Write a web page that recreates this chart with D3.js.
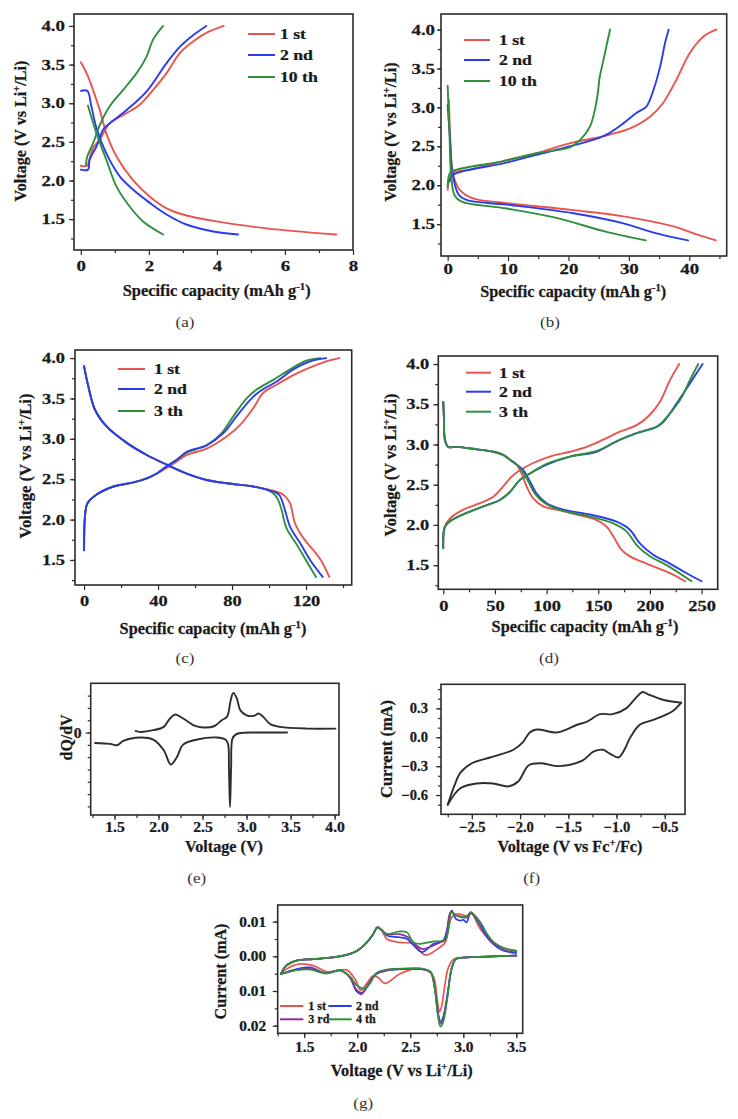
<!DOCTYPE html>
<html><head><meta charset="utf-8">
<script src="https://cdn.jsdelivr.net/npm/d3@7"></script>
<style>
html,body{margin:0;padding:0;background:#fff;}
svg{display:block;}
svg text{stroke:#1a1a1a;stroke-width:0.25px;}
</style></head><body>
<svg id="chart" width="738" height="1119"></svg>
<script>
// ---------------- DATA ----------------
// (a) specific capacity (mAh/g), voltage (V)
const a1stCharge = [[0,2.19],[0.19,2.19],[0.25,2.27],[0.36,2.42],[0.56,2.53],[0.85,2.74],[1.34,2.87],[1.73,2.98],[2.12,3.17],[2.52,3.39],[2.91,3.65],[3.3,3.8],[3.69,3.91],[4.2,4.0]];
const a1stDischarge = [[0,3.53],[0.19,3.37],[0.36,3.17],[0.56,2.91],[0.75,2.61],[1.05,2.31],[1.54,2.0],[2.03,1.79],[2.52,1.64],[3.0,1.56],[3.99,1.47],[5.46,1.38],[7.51,1.3]];
const a2ndCharge = [[0,2.14],[0.21,2.14],[0.26,2.27],[0.46,2.44],[0.66,2.66],[0.85,2.74],[1.34,2.91],[1.93,3.15],[2.52,3.52],[2.91,3.73],[3.3,3.88],[3.69,4.0]];
const a2ndDischarge = [[0,3.16],[0.19,3.16],[0.31,2.96],[0.46,2.68],[0.75,2.35],[1.15,2.05],[1.54,1.88],[2.03,1.71],[2.52,1.56],[3.1,1.43],[3.89,1.34],[4.62,1.3]];
const a10thCharge = [[0.15,2.2],[0.19,2.31],[0.36,2.48],[0.56,2.72],[0.85,2.96],[1.24,3.17],[1.64,3.39],[1.93,3.6],[2.12,3.82],[2.42,4.0]];
const a10thDischarge = [[0.21,2.97],[0.46,2.61],[0.75,2.27],[1.05,1.92],[1.44,1.66],[1.83,1.47],[2.42,1.3]];
// (b)
const b1stCharge = [[0,1.94],[0.4,2.11],[0.9,2.16],[3.7,2.2],[9.2,2.31],[14.7,2.41],[20.3,2.54],[25.8,2.63],[30.2,2.73],[33.5,2.88],[35.7,3.06],[37.9,3.36],[40.1,3.7],[42.5,3.92],[44.5,4.0]];
const b1stDischarge = [[0.2,3.1],[0.4,2.67],[0.7,2.24],[1.2,2.06],[2.0,1.94],[4.2,1.83],[9.8,1.77],[20.8,1.68],[29.1,1.6],[37.4,1.47],[40.7,1.38],[44.4,1.29]];
const b2ndCharge = [[0.3,2.05],[0.9,2.13],[2.6,2.18],[9.2,2.28],[14.7,2.39],[20.3,2.5],[25.8,2.63],[28.5,2.76],[31.3,2.93],[32.9,3.01],[34.1,3.23],[35.2,3.53],[36.0,3.83],[36.6,4.0]];
const b2ndDischarge = [[0,3.03],[0.4,2.58],[0.8,2.16],[1.8,1.88],[3.1,1.81],[9.8,1.75],[20.8,1.64],[29.1,1.51],[34.6,1.38],[39.8,1.29]];
const b10thCharge = [[0,1.98],[0.4,2.16],[1.5,2.2],[9.2,2.31],[14.7,2.41],[20.3,2.49],[21.9,2.58],[23.6,2.76],[24.7,3.1],[25.2,3.4],[25.8,3.61],[26.3,3.79],[26.9,4.0]];
const b10thDischarge = [[0,3.28],[0.3,2.67],[0.6,2.11],[1.2,1.86],[2.3,1.79],[9.8,1.7],[18,1.58],[26.3,1.4],[32.8,1.29]];
// (c)
const c1stCharge = [[0,1.62],[0.5,2.04],[1.8,2.2],[6.8,2.31],[15.9,2.41],[26.7,2.46],[33.9,2.51],[39.3,2.57],[44.7,2.64],[50.1,2.72],[55.5,2.8],[66.3,2.88],[77.1,3.03],[84.3,3.17],[91.5,3.38],[96.9,3.57],[104.1,3.67],[113.2,3.79],[124,3.9],[131,3.96],[138,4.0]];
const c1stDischarge = [[0,3.9],[2.3,3.65],[5.9,3.36],[12.3,3.15],[23.1,2.95],[33.9,2.8],[44.7,2.68],[55.5,2.57],[66.3,2.49],[77.1,2.45],[91.5,2.41],[100,2.37],[106,2.33],[108.6,2.29],[111.4,2.2],[114.1,1.95],[118.6,1.77],[124,1.62],[128,1.5],[132.6,1.29]];
const c2ndCharge = [[0,1.62],[0.5,2.04],[1.8,2.2],[6.8,2.31],[15.9,2.41],[26.7,2.46],[33.9,2.51],[39.3,2.57],[44.7,2.66],[50.1,2.74],[55.5,2.84],[66.3,2.92],[75.3,3.07],[82.5,3.28],[89.7,3.48],[95.1,3.59],[104.1,3.71],[113.2,3.86],[122.2,3.96],[130.8,4.0]];
const c2ndDischarge = [[0,3.9],[2.3,3.65],[5.9,3.36],[12.3,3.15],[23.1,2.95],[33.9,2.8],[44.7,2.68],[55.5,2.57],[66.3,2.49],[77.1,2.45],[91.5,2.41],[98.7,2.37],[104.1,2.33],[106,2.29],[108.6,2.12],[111.4,1.91],[116.8,1.71],[122.2,1.5],[129,1.29]];
const c3rdCharge = [[0,1.62],[0.5,2.04],[1.8,2.2],[6.8,2.31],[15.9,2.41],[26.7,2.46],[33.9,2.51],[39.3,2.57],[44.7,2.66],[50.1,2.74],[55.5,2.83],[66.3,2.92],[74.4,3.07],[80.7,3.28],[87.9,3.5],[93.3,3.61],[102.3,3.73],[111.4,3.86],[120.4,3.97],[127.6,4.0]];
const c3rdDischarge = [[0,3.9],[2.3,3.65],[5.9,3.36],[12.3,3.15],[23.1,2.95],[33.9,2.8],[44.7,2.68],[55.5,2.57],[66.3,2.49],[77.1,2.45],[91.5,2.41],[98.7,2.37],[103,2.31],[104.8,2.25],[106.8,2.12],[109.5,1.89],[115,1.69],[120.4,1.48],[125.4,1.29]];
// (d)
const d1stCharge = [[0,1.73],[1.6,1.98],[6.5,2.08],[19.4,2.19],[35.5,2.27],[48.4,2.35],[58,2.48],[66.1,2.6],[74.2,2.68],[87.1,2.77],[103.2,2.85],[122.6,2.91],[138.7,2.97],[154.8,3.06],[171,3.16],[187.1,3.24],[200,3.37],[209.7,3.53],[219.4,3.8],[228.4,4.0]];
const d1stDischarge = [[0,3.53],[0.6,3.35],[1.6,3.06],[4.8,2.97],[12.9,2.97],[32.3,2.94],[48.4,2.91],[58,2.87],[64.5,2.81],[71,2.75],[75.8,2.64],[80.6,2.48],[87.1,2.33],[96.8,2.23],[109.7,2.19],[129,2.13],[148.4,2.06],[158,1.98],[164.5,1.86],[172.6,1.69],[180.6,1.61],[196.8,1.52],[219.4,1.4],[233.9,1.3]];
const d2ndCharge = [[0,1.71],[1.6,1.98],[8.1,2.06],[22.6,2.15],[38.7,2.23],[54.8,2.31],[64.5,2.41],[74.2,2.56],[83.9,2.64],[100,2.75],[122.6,2.85],[148.4,2.91],[167.7,3.04],[187.1,3.14],[206.5,3.22],[212.9,3.28],[225.8,3.51],[238.7,3.76],[251,4.0]];
const d2ndDischarge = [[0,3.53],[0.6,3.35],[1.6,3.06],[4.8,2.97],[12.9,2.97],[32.3,2.94],[48.4,2.91],[58,2.87],[64.5,2.81],[71,2.75],[77.4,2.68],[83.9,2.54],[90.3,2.39],[100,2.27],[116.1,2.19],[141.9,2.13],[167.7,2.04],[180.6,1.94],[190.3,1.77],[203.2,1.63],[219.4,1.52],[235.5,1.4],[250,1.3]];
const d3rdCharge = [[0,1.71],[1.6,1.98],[8.1,2.06],[22.6,2.15],[38.7,2.23],[54.8,2.31],[64.5,2.41],[74.2,2.56],[83.9,2.64],[100,2.76],[122.6,2.85],[148.4,2.92],[167.7,3.04],[187.1,3.14],[206.5,3.22],[212.9,3.29],[229,3.55],[238.7,3.8],[246.8,4.0]];
const d3rdDischarge = [[0,3.53],[0.6,3.35],[1.6,3.06],[4.8,2.97],[12.9,2.97],[32.3,2.94],[48.4,2.91],[58,2.87],[64.5,2.81],[71,2.75],[75.8,2.68],[82.3,2.54],[88.7,2.39],[98.4,2.27],[114.5,2.18],[140.3,2.11],[164.5,2.02],[177.4,1.92],[187.1,1.75],[200,1.61],[216.1,1.5],[240.3,1.3]];
// (e) dQ/dV (arb. units)
const eCharge = [[1.74,0.13],[1.79,0.05],[1.94,0.19],[2.06,0.46],[2.13,1.14],[2.19,1.46],[2.28,1.14],[2.4,0.59],[2.51,0.41],[2.63,0.51],[2.72,1.0],[2.78,1.3],[2.82,2.63],[2.85,3.22],[2.89,2.76],[2.93,1.8],[3.0,1.4],[3.08,1.35],[3.14,1.54],[3.19,1.27],[3.27,0.68],[3.38,0.46],[3.69,0.32],[4.01,0.32]];
const eDischarge = [[1.28,-0.85],[1.45,-0.92],[1.53,-1.03],[1.6,-0.68],[1.79,-0.4],[1.94,-0.57],[2.06,-1.44],[2.14,-2.6],[2.21,-1.98],[2.28,-0.98],[2.44,-0.57],[2.66,-0.4],[2.76,-0.57],[2.79,-0.95],[2.80,-2.8],[2.812,-6.05],[2.825,-2.8],[2.84,-0.5],[2.88,-0.15],[2.95,-0.03],[3.1,0.0],[3.46,0.0]];
// (f) CV, voltage (V vs Fc+/Fc), current (mA)
const fCathodic = [[-0.33,0.36],[-0.42,0.27],[-0.62,0.18],[-0.76,0.13],[-0.85,0.01],[-0.93,-0.15],[-0.98,-0.21],[-1.07,-0.17],[-1.14,-0.13],[-1.24,-0.15],[-1.35,-0.24],[-1.59,-0.3],[-1.79,-0.27],[-1.91,-0.29],[-2.02,-0.46],[-2.12,-0.51],[-2.28,-0.48],[-2.45,-0.48],[-2.62,-0.53],[-2.75,-0.7]];
const fAnodic = [[-2.75,-0.7],[-2.68,-0.5],[-2.62,-0.37],[-2.5,-0.27],[-2.31,-0.21],[-2.07,-0.13],[-1.97,-0.05],[-1.9,0.05],[-1.83,0.08],[-1.62,0.05],[-1.52,0.08],[-1.41,0.13],[-1.31,0.16],[-1.17,0.24],[-1.04,0.24],[-0.9,0.3],[-0.79,0.42],[-0.73,0.47],[-0.66,0.44],[-0.52,0.39],[-0.33,0.36]];
// (g) CV, voltage (V vs Li+/Li), current (mA)
const gAnodic1st = [[1.28,-0.0051],[1.33,-0.0027],[1.43,-0.00125],[1.585,-0.0008],[1.77,-0.0003],[1.9,0.0004],[2.0,0.0016],[2.09,0.004],[2.15,0.0064],[2.19,0.0082],[2.23,0.0074],[2.28,0.005],[2.4,0.004],[2.53,0.0036],[2.62,0.0007],[2.66,0.0004],[2.78,0.0026],[2.83,0.004],[2.89,0.0112],[2.94,0.0122],[3.03,0.0117],[3.08,0.0122],[3.16,0.0079],[3.29,0.0036],[3.41,0.0016],[3.5,0.0007]];
const gAnodic2nd = [[1.28,-0.0051],[1.33,-0.0027],[1.43,-0.00125],[1.585,-0.0008],[1.77,-0.0003],[1.9,0.0004],[2.0,0.0016],[2.09,0.004],[2.15,0.0064],[2.19,0.0084],[2.23,0.0076],[2.28,0.006],[2.4,0.0055],[2.47,0.005],[2.55,0.0026],[2.61,0.0012],[2.72,0.0036],[2.81,0.0045],[2.89,0.0132],[2.93,0.0108],[2.97,0.0103],[3.0,0.0105],[3.03,0.0098],[3.07,0.0127],[3.13,0.0103],[3.25,0.0045],[3.38,0.0016],[3.5,0.0012]];
const gAnodic3rd = [[1.28,-0.0051],[1.33,-0.0027],[1.43,-0.00125],[1.585,-0.0008],[1.77,-0.0003],[1.9,0.0004],[2.0,0.0016],[2.09,0.004],[2.15,0.0064],[2.19,0.0084],[2.23,0.0076],[2.28,0.0064],[2.4,0.0064],[2.48,0.0055],[2.56,0.0031],[2.62,0.0021],[2.78,0.004],[2.83,0.0047],[2.88,0.0127],[2.94,0.0117],[3.03,0.0112],[3.07,0.0127],[3.16,0.0098],[3.29,0.0036],[3.5,0.0016]];
const gAnodic4th = [[1.28,-0.0051],[1.33,-0.0027],[1.43,-0.00125],[1.585,-0.0008],[1.77,-0.0003],[1.9,0.0004],[2.0,0.0016],[2.09,0.004],[2.15,0.0064],[2.19,0.0084],[2.23,0.0076],[2.28,0.0064],[2.4,0.0072],[2.47,0.0069],[2.53,0.004],[2.59,0.0036],[2.72,0.0043],[2.83,0.0048],[2.89,0.0127],[2.94,0.0117],[3.03,0.0114],[3.07,0.0127],[3.16,0.0093],[3.29,0.004],[3.41,0.0021],[3.5,0.0016]];
const gCathodic1st = [[3.5,0.0002],[3.22,-0.0001],[3.03,-0.0003],[2.91,-0.0008],[2.86,-0.0032],[2.82,-0.0095],[2.795,-0.0145],[2.775,-0.016],[2.755,-0.0128],[2.72,-0.006],[2.66,-0.0041],[2.53,-0.0037],[2.4,-0.0051],[2.26,-0.0078],[2.2,-0.0062],[2.15,-0.0056],[2.09,-0.0078],[2.035,-0.0098],[1.98,-0.0066],[1.9,-0.0039],[1.8,-0.0042],[1.71,-0.0044],[1.585,-0.0027],[1.46,-0.0022],[1.33,-0.0037],[1.28,-0.0051]];
const gCathodic2nd = [[3.5,0.0002],[3.22,-0.0001],[3.03,-0.0003],[2.93,-0.0008],[2.89,-0.0035],[2.85,-0.011],[2.81,-0.0175],[2.785,-0.0188],[2.76,-0.016],[2.73,-0.009],[2.69,-0.0045],[2.6,-0.0037],[2.47,-0.0037],[2.28,-0.0041],[2.18,-0.0051],[2.1,-0.0085],[2.04,-0.0109],[1.99,-0.0099],[1.93,-0.0061],[1.84,-0.0041],[1.71,-0.0048],[1.55,-0.0032],[1.43,-0.0037],[1.28,-0.0051]];
const gCathodic3rd = [[3.5,0.0002],[3.22,-0.0001],[3.03,-0.0003],[2.93,-0.0008],[2.89,-0.0035],[2.85,-0.0115],[2.81,-0.018],[2.785,-0.0195],[2.76,-0.0165],[2.73,-0.009],[2.69,-0.0045],[2.6,-0.0036],[2.47,-0.0036],[2.28,-0.004],[2.18,-0.005],[2.1,-0.0082],[2.045,-0.0105],[1.99,-0.0095],[1.93,-0.006],[1.84,-0.0041],[1.71,-0.0049],[1.55,-0.0036],[1.43,-0.0039],[1.28,-0.0051]];
const gCathodic4th = [[3.5,0.0002],[3.22,-0.0001],[3.03,-0.0003],[2.93,-0.0008],[2.89,-0.0035],[2.85,-0.012],[2.81,-0.019],[2.785,-0.0203],[2.76,-0.017],[2.73,-0.009],[2.69,-0.0045],[2.6,-0.0035],[2.47,-0.0035],[2.28,-0.0038],[2.18,-0.0048],[2.12,-0.0078],[2.07,-0.0093],[2.0,-0.0085],[1.93,-0.0058],[1.84,-0.004],[1.71,-0.0049],[1.55,-0.0038],[1.43,-0.004],[1.28,-0.0051]];

// tick labels
const aXTicks = [0,2,4,6,8];
const bXTicks = [0,10,20,30,40];
const cXTicks = [0,40,80,120];
const dXTicks = [0,50,100,150,200,250];
const voltYTicks = [1.5,2.0,2.5,3.0,3.5,4.0];
const eXTicks = [1.5,2.0,2.5,3.0,3.5,4.0];
const eYTicks = [0];
const fXTicks = [-2.5,-2.0,-1.5,-1.0,-0.5];
const fYTicks = [-0.6,-0.3,0.0,0.3];
const gXTicks = [1.5,2.0,2.5,3.0,3.5];
const gYTicks = [-0.02,-0.01,0.0,0.01];
const legend3A = ['1 st','2 nd','10 th'];
const legend3C = ['1 st','2 nd','3 th'];
const legendG = ['1 st','2 nd','3 rd','4 th'];

// ---------------- DRAWING ----------------
const svg = d3.select('#chart');
const FONT = "'Liberation Serif','Times New Roman',serif";
const INK = '#2b2b2b';
const COL = {red:'#e8554e', blue:'#2b3bef', green:'#2f8f3a', purple:'#8b2f9a', black:'#2d2d2d'};

function stretch(sel, sx){
  sel.each(function(){
    const t = d3.select(this);
    const x0 = +t.attr('x') || 0;
    t.attr('transform', `translate(${x0},0) scale(${sx},1) translate(${-x0},0)`);
  });
}
function range(a,b,s){ const out=[]; for(let v=a; v<=b+1e-9; v+=s) out.push(+v.toFixed(6)); return out; }

function panel(o){
  const x = d3.scaleLinear().domain(o.xd).range([o.l,o.r]);
  const y = d3.scaleLinear().domain(o.yd).range([o.b,o.t]);
  const g = svg.append('g');
  const style = s => {
    s.select('.domain').remove();
    s.selectAll('line').attr('stroke',INK).attr('stroke-width',1.2);
    s.selectAll('text').attr('font-family',FONT).attr('font-weight','bold')
      .attr('font-size',o.fs).attr('fill','#1a1a1a');
  };
  g.append('g').attr('transform',`translate(0,${o.b})`)
    .call(d3.axisBottom(x).tickValues(o.xMinor).tickSize(3).tickFormat('')).call(style);
  const xa = g.append('g').attr('transform',`translate(0,${o.b})`)
    .call(d3.axisBottom(x).tickValues(o.xMajor).tickSize(5).tickPadding(o.xpad).tickFormat(o.xFmt)).call(style);
  g.append('g').attr('transform',`translate(${o.l},0)`)
    .call(d3.axisLeft(y).tickValues(o.yMinor).tickSize(3).tickFormat('')).call(style);
  const ya = g.append('g').attr('transform',`translate(${o.l},0)`)
    .call(d3.axisLeft(y).tickValues(o.yMajor).tickSize(o.ytick||5).tickPadding(o.ypad).tickFormat(o.yFmt)).call(style);
  stretch(xa.selectAll('text'), o.sx);
  stretch(ya.selectAll('text'), o.sx);
  g.append('rect').attr('x',o.l).attr('y',o.t).attr('width',o.r-o.l).attr('height',o.b-o.t)
    .attr('fill','none').attr('stroke',INK).attr('stroke-width',1.6);
  const line = d3.line().x(d=>x(d[0])).y(d=>y(d[1])).curve(o.curve || d3.curveCatmullRom.alpha(0.5));
  return {x,y,g,line};
}

function drawSeries(p, data, color, w){
  p.g.append('path').datum(data).attr('d',p.line).attr('fill','none')
    .attr('stroke',color).attr('stroke-width',w||1.9).attr('stroke-linejoin','round').attr('stroke-linecap','round');
}

function title(parts, cx, cy, w, rot, fs){
  fs = fs || 16.5;
  const g = svg.append('g').attr('transform',`translate(${cx},${cy}) rotate(${rot||0})`);
  const t = g.append('text').attr('text-anchor','middle').attr('dy','0.35em')
    .attr('font-family',FONT).attr('font-weight','bold').attr('font-size',fs).attr('fill','#1a1a1a');
  parts.forEach(pt => {
    if (typeof pt === 'string') t.append('tspan').text(pt);
    else t.append('tspan').attr('baseline-shift','super').attr('font-size',fs*0.66).text(pt.sup);
  });
  const bw = t.node().getBBox().width;
  if (w && bw>0) t.attr('transform',`scale(${w/bw},1)`);
}

function plabel(txt, cx, cy){
  svg.append('text').attr('x',cx).attr('y',cy).attr('dy','0.35em').attr('text-anchor','middle')
    .attr('font-family',FONT).attr('font-size',15.5).attr('fill','#333').style('stroke','none')
    .attr('transform',`translate(${cx},0) scale(1.1,1) translate(${-cx},0)`).text(txt);
}

function legend(items, colors, x1, x2, tx, ys, fs, sx){
  items.forEach((lab,i)=>{
    svg.append('line').attr('x1',x1[i]).attr('x2',x2[i]).attr('y1',ys[i]).attr('y2',ys[i])
      .attr('stroke',colors[i]).attr('stroke-width',2);
    const t = svg.append('text').attr('x',tx[i]).attr('y',ys[i]).attr('dy','0.35em')
      .attr('font-family',FONT).attr('font-weight','bold').attr('font-size',fs).attr('fill','#1a1a1a').text(lab);
    t.attr('transform',`translate(${tx[i]},0) scale(${sx},1) translate(${-tx[i]},0)`);
  });
}

const f1 = d3.format('.1f');
const fInt = d3.format('d');

// ----- (a)
const pa = panel({l:74,t:14,r:353,b:250,xd:[-0.2,8],yd:[1.1,4.155],
  xMajor:aXTicks,xMinor:range(1,7,2),yMajor:voltYTicks,yMinor:range(1.25,4.0,0.25),
  xFmt:fInt,yFmt:f1,xpad:6,ypad:4,fs:14.5,sx:1.3});
drawSeries(pa,a1stCharge,COL.red); drawSeries(pa,a1stDischarge,COL.red);
drawSeries(pa,a2ndCharge,COL.blue); drawSeries(pa,a2ndDischarge,COL.blue);
drawSeries(pa,a10thCharge,COL.green); drawSeries(pa,a10thDischarge,COL.green);
legend(legend3A,[COL.red,COL.blue,COL.green],[248,248,248],[275,275,275],[280,280,280],[34,55,77],14.5,1.22);
title(['Specific capacity (mAh g',{sup:'-1'},')'],216.7,290,188,0);
title(['Voltage (V vs Li',{sup:'+'},'/Li)'],20,131,141,-90);
plabel('(a)',185,322);

// ----- (b)
const pb = panel({l:441,t:14,r:726.7,b:256,xd:[-1.1,46.2],yd:[1.09,4.2],
  xMajor:bXTicks,xMinor:range(5,45,10),yMajor:voltYTicks,yMinor:range(1.25,4.0,0.25),
  xFmt:fInt,yFmt:f1,xpad:3,ypad:2,ytick:4,fs:14.5,sx:1.3});
drawSeries(pb,b1stCharge,COL.red); drawSeries(pb,b1stDischarge,COL.red);
drawSeries(pb,b2ndCharge,COL.blue); drawSeries(pb,b2ndDischarge,COL.blue);
drawSeries(pb,b10thCharge,COL.green); drawSeries(pb,b10thDischarge,COL.green);
legend(legend3A,[COL.red,COL.blue,COL.green],[464,464,464],[490,490,490],[499,499,499],[40,60,81],14.5,1.22);
title(['Specific capacity (mAh g',{sup:'-1'},')'],573.3,291.7,186,0);
title(['Voltage (V vs Li',{sup:'+'},'/Li)'],390.5,132,139,-90);
plabel('(b)',550,322);

// ----- (c)
const pc = panel({l:75,t:350,r:351.7,b:585,xd:[-4.9,144.7],yd:[1.19,4.1],
  xMajor:cXTicks,xMinor:range(20,140,40),yMajor:voltYTicks,yMinor:range(1.25,4.0,0.25),
  xFmt:fInt,yFmt:f1,xpad:5.5,ypad:5,fs:14.5,sx:1.27});
drawSeries(pc,c1stCharge,COL.red); drawSeries(pc,c1stDischarge,COL.red);
drawSeries(pc,c3rdCharge,COL.green); drawSeries(pc,c3rdDischarge,COL.green);
drawSeries(pc,c2ndCharge,COL.blue); drawSeries(pc,c2ndDischarge,COL.blue);
legend(legend3C,[COL.red,COL.blue,COL.green],[118,118,118],[145,145,145],[154,154,154],[369,389,411],14.5,1.22);
title(['Specific capacity (mAh g',{sup:'-1'},')'],213,628.3,187,0);
title(['Voltage (V vs Li',{sup:'+'},'/Li)'],25,466,145,-90);
plabel('(c)',185,658);

// ----- (d)
const pd = panel({l:438.3,t:356,r:717.7,b:589.3,xd:[-4.8,265.6],yd:[1.2,4.1],
  xMajor:dXTicks,xMinor:range(25,250,50),yMajor:voltYTicks,yMinor:range(1.25,4.0,0.25),
  xFmt:fInt,yFmt:f1,xpad:6,ypad:4,fs:14.5,sx:1.27});
drawSeries(pd,d1stCharge,COL.red); drawSeries(pd,d1stDischarge,COL.red);
drawSeries(pd,d2ndCharge,COL.blue); drawSeries(pd,d2ndDischarge,COL.blue);
drawSeries(pd,d3rdCharge,COL.green); drawSeries(pd,d3rdDischarge,COL.green);
legend(legend3C,[COL.red,COL.blue,COL.green],[466,466,466],[491,491,491],[499,499,499],[372.7,391.7,411.7],14.5,1.22);
title(['Specific capacity (mAh g',{sup:'-1'},')'],585,626.7,187,0);
title(['Voltage (V vs Li',{sup:'+'},'/Li)'],390,465,143,-90);
plabel('(d)',549,658);

// ----- (e)
const pe = panel({l:90.7,t:683.3,r:339,b:815,xd:[1.23,4.05],yd:[-6.7,4.0],
  xMajor:eXTicks,xMinor:range(1.25,4.0,0.25),yMajor:eYTicks,yMinor:range(-6,3,1),
  xFmt:f1,yFmt:fInt,xpad:2.5,ypad:4,fs:14,sx:1.12});
drawSeries(pe,eCharge,COL.black); drawSeries(pe,eDischarge,COL.black);
title(['Voltage (V)'],224,846.7,78,0);
title(['dQ/dV'],66,737.5,46,-90);
plabel('(e)',196.7,878);

// ----- (f)
const pf = panel({l:441,t:684.3,r:685,b:814.3,xd:[-2.82,-0.29],yd:[-0.8,0.55],
  xMajor:fXTicks,xMinor:range(-2.75,-0.5,0.25),yMajor:fYTicks,yMinor:range(-0.7,0.5,0.1),
  xFmt:f1,yFmt:f1,xpad:2.5,ypad:8,fs:14,sx:1.04});
drawSeries(pf,fAnodic,COL.black); drawSeries(pf,fCathodic,COL.black);
title(['Voltage (V vs Fc',{sup:'+'},'/Fc)'],570,846.7,145,0);
title(['Current (mA)'],386.7,749,98,-90);
plabel('(f)',531.7,878);

// ----- (g)
const pg = panel({l:277.7,t:905,r:522.7,b:1033.3,xd:[1.25,3.56],yd:[-0.0222,0.0148],
  xMajor:gXTicks,xMinor:range(1.25,3.5,0.25),yMajor:gYTicks,yMinor:range(-0.02,0.01,0.005),
  xFmt:f1,yFmt:v=>Math.abs(v).toFixed(2),xpad:3.5,ypad:6.5,fs:14,sx:1.1});
drawSeries(pg,gAnodic1st,COL.red,1.7); drawSeries(pg,gCathodic1st,COL.red,1.7);
drawSeries(pg,gAnodic2nd,COL.blue,1.7); drawSeries(pg,gCathodic2nd,COL.blue,1.7);
drawSeries(pg,gAnodic3rd,COL.purple,1.7); drawSeries(pg,gCathodic3rd,COL.purple,1.7);
drawSeries(pg,gAnodic4th,COL.green,1.7); drawSeries(pg,gCathodic4th,COL.green,1.7);
legend(legendG,[COL.red,COL.blue,COL.purple,COL.green],[280,328.3,280,328.3],[303.3,351.7,303.3,351.7],[308.3,356,308.3,356],[1006,1006,1019.3,1019.3],11.5,1.05);
title(['Voltage (V vs Li',{sup:'+'},'/Li)'],401.7,1070,142,0);
title(['Current (mA)'],220,971.5,96,-90);
plabel('(g)',363.3,1103);
</script>
</body></html>
